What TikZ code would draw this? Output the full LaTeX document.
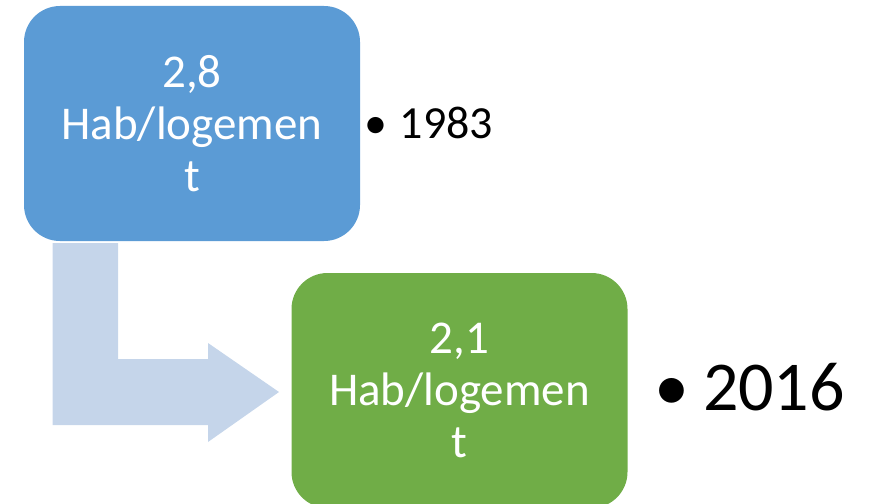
\documentclass[tikz,border=0pt]{standalone}
\usepackage{fontspec}
\setmainfont{Carlito}
\definecolor{boxblue}{HTML}{5B9BD5}
\definecolor{boxgreen}{HTML}{70AD47}
\definecolor{arrowblue}{HTML}{C5D5EA}
\begin{document}
\begin{tikzpicture}[x=1pt,y=-1pt,
  yearbox/.style={rounded corners=36pt, minimum width=336pt, minimum height=235pt,
    inner sep=0pt, text=white, align=center,
    font=\fontsize{47}{52}\selectfont},
  yeartext/.style={anchor=base west, inner sep=0pt}]
\useasboundingbox (0,0) rectangle (869,503);
% bent arrow
\fill[arrowblue] (52.7,243) -- (118,243) -- (118,359) -- (208,359) -- (208,343)
  -- (279,392) -- (208,442) -- (208,425) -- (52.7,425) -- cycle;
\node[yearbox, fill=boxblue] (b1) at (192,123.5) {2,8\\Hab/logemen\\t};
\node[yearbox, fill=boxgreen] (b2) at (459.5,390.5) {2,1\\Hab/logemen\\t};
\node[yeartext, font=\fontsize{46}{52}\selectfont] (y1) at (364,138) {•\hspace{0.28em}1983};
\node[yeartext, font=\fontsize{70}{84}\selectfont] (y2) at (654,410) {•\hspace{0.2em}2016};
\end{tikzpicture}
\end{document}
